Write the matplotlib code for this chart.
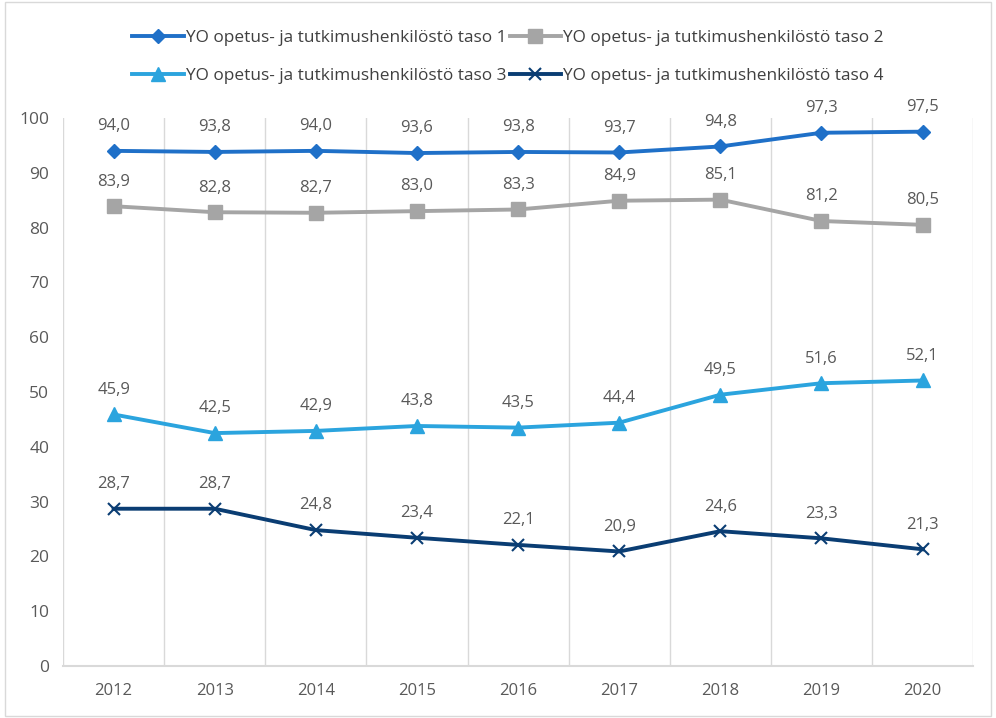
import matplotlib
matplotlib.use("Agg")
import matplotlib.pyplot as plt
from matplotlib.patches import Rectangle

years = ["2012", "2013", "2014", "2015", "2016", "2017", "2018", "2019", "2020"]
taso1 = [94.0, 93.8, 94.0, 93.6, 93.8, 93.7, 94.8, 97.3, 97.5]
taso2 = [83.9, 82.8, 82.7, 83.0, 83.3, 84.9, 85.1, 81.2, 80.5]
taso3 = [45.9, 42.5, 42.9, 43.8, 43.5, 44.4, 49.5, 51.6, 52.1]
taso4 = [28.7, 28.7, 24.8, 23.4, 22.1, 20.9, 24.6, 23.3, 21.3]
names = ["YO opetus- ja tutkimushenkilöstö taso 1",
         "YO opetus- ja tutkimushenkilöstö taso 2",
         "YO opetus- ja tutkimushenkilöstö taso 3",
         "YO opetus- ja tutkimushenkilöstö taso 4"]
yticks = [0, 10, 20, 30, 40, 50, 60, 70, 80, 90, 100]

plt.rcParams['font.family'] = ['Open Sans', 'DejaVu Sans']
txt = '#595959'
grid = '#D9D9D9'

fig = plt.figure(figsize=(9.96, 7.18), dpi=100)
fig.patches.append(Rectangle((0.005, 0.003), 0.99, 0.994, transform=fig.transFigure,
                             fill=False, edgecolor=grid, linewidth=1.0))
ax = fig.add_axes([0.0633, 0.0724, 0.9137, 0.7633])

x = list(range(len(years)))
styles = [
    (taso1, '#1F70C8', 'D', 7.5),
    (taso2, '#A5A5A5', 's', 9.5),
    (taso3, '#2BA4DE', '^', 9.5),
    (taso4, '#0A3D73', 'x', 8.5),
]
handles = []
for (vals, col, mk, ms), name in zip(styles, names):
    h, = ax.plot(x, vals, color=col, lw=2.8, marker=mk, markersize=ms,
                 markeredgewidth=1.5 if mk == 'x' else 1.0, label=name, zorder=3)
    handles.append(h)
    for xi, v in zip(x, vals):
        ax.annotate(f"{v:.1f}".replace('.', ','), (xi, v), xytext=(0, 12),
                    textcoords='offset points', ha='center', va='bottom',
                    fontsize=12, color=txt)

ax.set_xlim(-0.5, len(years) - 0.5)
ax.set_ylim(0, 100)
ax.set_yticks(yticks)
ax.set_yticklabels([str(t) for t in yticks])
ax.set_xticks(x)
ax.set_xticklabels(years)
for b in [i + 0.5 for i in range(-1, len(years))]:
    ax.axvline(b, color=grid, lw=1.0, zorder=1)
for s in ['top', 'right', 'left']:
    ax.spines[s].set_visible(False)
ax.spines['bottom'].set_color(grid)
ax.spines['bottom'].set_linewidth(1.5)
ax.tick_params(axis='y', length=0, colors=txt, labelsize=12.5, pad=10)
ax.tick_params(axis='x', length=0, colors=txt, labelsize=12, pad=12)

order = [0, 2, 1, 3]
leg = fig.legend([handles[i] for i in order], [names[i] for i in order],
                 loc='upper center', bbox_to_anchor=(0.51, 0.98), ncol=2,
                 frameon=False, fontsize=12.4, handlelength=3.0,
                 columnspacing=0.2, handletextpad=0.1, labelspacing=1.3)
for t in leg.get_texts():
    t.set_color('#404040')

fig.savefig("out.png", dpi=100)
